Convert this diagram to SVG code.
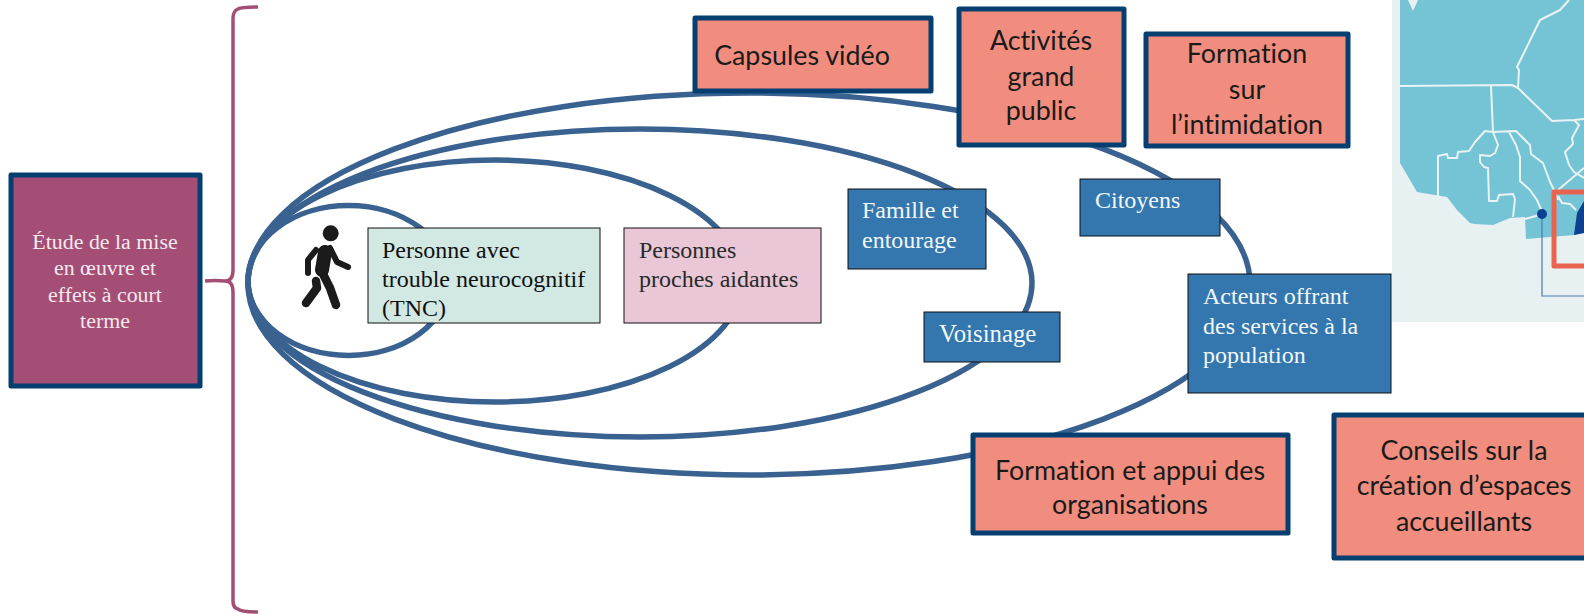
<svg xmlns="http://www.w3.org/2000/svg" width="1584" height="615" viewBox="0 0 1584 615">
<style>
.ring{fill:none;stroke:#3a6290;stroke-width:5.500}
.act{fill:#f08d7e;stroke:#053e70;stroke-width:5;stroke-linejoin:round}
.actt{font-family:"Lato","Carlito","Noto Sans",sans-serif;font-size:26.800px;fill:#1a1a1a;text-anchor:middle;font-variant-ligatures:none}
.blue{fill:#3377ae;stroke:#111;stroke-width:1}
.bluet{font-family:"Liberation Serif",serif;font-size:24px;fill:#f4f8fb}
.dark{font-family:"Liberation Serif",serif;font-size:24px;fill:#111}
.grey{font-family:"Liberation Serif",serif;font-size:24px;fill:#2a2a2a}
.bound{fill:none;stroke:#e9f3f4;stroke-width:2;stroke-linejoin:round}
.limb{fill:none;stroke:#1b1b1b;stroke-linecap:round;stroke-linejoin:round}
</style>
<rect width="1584" height="615" fill="#fff"/>
<g id="map">
<rect x="1392" y="0" width="192" height="322" fill="#e8f1f2"/>
<path d="M1400 0V163L1417 192L1447 197L1457 210L1470 223L1475 224L1493 225L1510 218L1525 217L1526 239L1574 235L1584 233V0Z" fill="#75c4d6"/>
<path d="M1408 0L1413 11L1418 0Z" fill="#e8f1f2"/>
<path class="bound" d="M1400 86L1512 85L1518 88L1552 121L1574 120L1584 119M1518 88L1519 70L1517 67L1540 20L1560 10L1569 0M1491 86L1493 132M1493 132L1516 131L1530 145L1531 154L1543 163L1550 182L1555 192L1558 200M1493 132L1498 145L1495 153L1490 156L1480 155L1480 162L1484 167L1488 168L1489 201L1497 201L1499 195L1513 194L1515 199L1513 217M1493 132L1485 131L1475 142L1469 151L1458 152L1457 158L1448 158L1447 154L1438 156L1438 197M1509 132L1516 145L1520 157L1520 181L1530 190L1537 200L1543 214L1525 219M1558 190L1584 168M1574 120L1579 125L1572 138L1573 144L1565 152L1569 165L1574 172L1584 178M1558 196L1562 203L1570 204L1576 210"/>
<path d="M1574 235L1577 213L1584 201V233Z" fill="#0b4190"/>
<path d="M1542 214V296H1584" fill="none" stroke="#4a78b8" stroke-width="1.200"/>
<circle cx="1542" cy="214" r="5" fill="#0b3f8f"/>
<path d="M1584 192H1554V266H1584" fill="none" stroke="#e9634e" stroke-width="5" stroke-linejoin="round"/>
</g>
<g id="connectors">
<path d="M258 7Q241 7 238 9Q233 11 233 18V270Q233 281 225 281Q215 280 205 281M225 281Q233 281 233 292V601Q233 608 238 609Q241 612 258 612" fill="none" stroke="#a54e75" stroke-width="3.500"/>
<ellipse class="ring" cx="348.600" cy="280.500" rx="100.600" ry="75"/>
<ellipse class="ring" cx="495" cy="281" rx="247" ry="121"/>
<ellipse class="ring" cx="640" cy="283" rx="392" ry="154"/>
<ellipse class="ring" cx="749" cy="284" rx="501" ry="191"/>
</g>
<g id="etude">
<rect x="11" y="175" width="189" height="211" fill="#a54e75" stroke="#053e70" stroke-width="5" stroke-linejoin="round"/>
<g font-family="Liberation Serif,serif" font-size="21.900px" fill="#f4e9ee" text-anchor="middle">
<text x="105" y="249">Étude de la mise</text>
<text x="105" y="275">en œuvre et</text>
<text x="105" y="302">effets à court</text>
<text x="105" y="328">terme</text>
</g>
</g>
<g id="walker">
<circle cx="330.700" cy="233.300" r="8" fill="#1b1b1b"/>
<path class="limb" stroke-width="14" d="M325 252L322 270"/>
<path class="limb" stroke-width="6" d="M316 250L308 260L308 273"/>
<path class="limb" stroke-width="6" d="M330 248L337 262L348 267"/>
<path class="limb" stroke-width="8.500" d="M324 276L330 288L336 305"/>
<path class="limb" stroke-width="8.500" d="M316 281L317 288L306 303"/>
</g>
<g id="personne">
<rect x="368" y="228" width="232" height="95" fill="#d1e8e3" stroke="#111" stroke-width="1"/>
<text class="dark" x="382" y="258">Personne avec</text>
<text class="dark" x="382" y="287">trouble neurocognitif</text>
<text class="dark" x="382" y="316">(TNC)</text>
</g>
<g id="proches">
<rect x="624" y="228" width="197" height="95" fill="#e9c7d6" stroke="#111" stroke-width="1"/>
<text class="grey" x="639" y="258">Personnes</text>
<text class="grey" x="639" y="287">proches aidantes</text>
</g>
<g id="famille">
<rect class="blue" x="848" y="189" width="138" height="80"/>
<text class="bluet" x="862" y="218">Famille et</text>
<text class="bluet" x="862" y="248">entourage</text>
</g>
<g id="voisinage">
<rect class="blue" x="924" y="312" width="136" height="50"/>
<text class="bluet" x="939" y="342" font-size="24.800" style="font-size:24.800px">Voisinage</text>
</g>
<g id="citoyens">
<rect class="blue" x="1080" y="179" width="140" height="57"/>
<text class="bluet" x="1095" y="208">Citoyens</text>
</g>
<g id="acteurs">
<rect class="blue" x="1188" y="274" width="203" height="119"/>
<text class="bluet" x="1203" y="304">Acteurs offrant</text>
<text class="bluet" x="1203" y="334">des services à la</text>
<text class="bluet" x="1203" y="363">population</text>
</g>
<g id="capsules">
<rect class="act" x="695" y="18" width="236" height="73"/>
<text class="actt" x="802" y="65">Capsules vidéo</text>
</g>
<g id="activites">
<rect class="act" x="959" y="9" width="165" height="136"/>
<text class="actt" x="1041" y="50">Activités</text>
<text class="actt" x="1041" y="86">grand</text>
<text class="actt" x="1041" y="120">public</text>
</g>
<g id="formation-intimidation">
<rect class="act" x="1146" y="34" width="202" height="112"/>
<text class="actt" x="1247" y="63">Formation</text>
<text class="actt" x="1247" y="99">sur</text>
<text class="actt" x="1247" y="134">l’intimidation</text>
</g>
<g id="formation-appui">
<rect class="act" x="973" y="435" width="315" height="98"/>
<text class="actt" x="1130" y="480">Formation et appui des</text>
<text class="actt" x="1130" y="514">organisations</text>
</g>
<g id="conseils">
<rect class="act" x="1334" y="415" width="260" height="143"/>
<text class="actt" x="1464" y="460">Conseils sur la</text>
<text class="actt" x="1464" y="495">création d’espaces</text>
<text class="actt" x="1464" y="531">accueillants</text>
</g>
</svg>
